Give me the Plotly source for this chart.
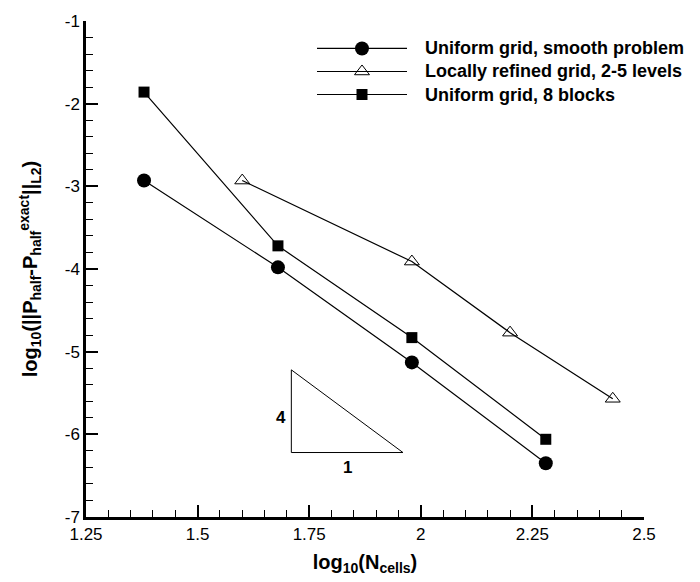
import plotly.graph_objects as go

# Convergence data: log10 of L2 error vs log10 of cell count
x_uniform = [1.38, 1.68, 1.98, 2.28]
y_smooth = [-2.93, -3.98, -5.13, -6.35]
y_blocks = [-1.86, -3.72, -4.83, -6.06]

x_refined = [1.60, 1.98, 2.20, 2.43]
y_refined = [-2.93, -3.91, -4.77, -5.57]

# Reference slope triangle (rise 4 over run 1 in log units)
slope_x = [1.71, 1.71, 1.96, 1.71]
slope_y = [-5.22, -6.22, -6.22, -5.22]

x_ticks = [1.25, 1.5, 1.75, 2.0, 2.25, 2.5]
x_tick_labels = ["1.25", "1.5", "1.75", "2", "2.25", "2.5"]
y_ticks = [-7, -6, -5, -4, -3, -2, -1]
y_tick_labels = ["-7", "-6", "-5", "-4", "-3", "-2", "-1"]

FONT = "Liberation Sans, Arial, Helvetica, sans-serif"
W, H = 700, 582
M_L, M_R, M_T, M_B = 86, 56, 12, 64
line_style = dict(color="black", width=1.2)

series = [
    dict(name="Uniform grid, smooth problem", x=x_uniform, y=y_smooth,
         marker=dict(symbol="circle", size=14, color="black")),
    dict(name="Locally refined grid, 2-5 levels", x=x_refined, y=y_refined,
         marker=dict(symbol="triangle-up-open", size=13, color="black",
                     line=dict(color="black", width=1))),
    dict(name="Uniform grid, 8 blocks", x=x_uniform, y=y_blocks,
         marker=dict(symbol="square", size=11, color="black")),
]

fig = go.Figure()

for s in series:
    fig.add_trace(go.Scatter(
        x=s["x"], y=s["y"], mode="lines+markers", name=s["name"],
        line=line_style, marker=s["marker"], showlegend=False,
    ))

fig.add_trace(go.Scatter(
    x=slope_x, y=slope_y, mode="lines",
    line=dict(color="black", width=1), showlegend=False, hoverinfo="skip",
))

fig.add_annotation(
    x=slope_x[0], y=(slope_y[0] + slope_y[1]) / 2 - 0.08, text="<b>4</b>",
    showarrow=False, xanchor="right", xshift=-3,
    font=dict(size=17, family=FONT, color="black"),
)
fig.add_annotation(
    x=(slope_x[1] + slope_x[2]) / 2, y=slope_y[1], text="<b>1</b>",
    showarrow=False, yanchor="top", yshift=-3,
    font=dict(size=17, family=FONT, color="black"),
)

# Legend key drawn on a hidden overlay axis measured in pixels
key_x0, key_x1, key_text_x = 317, 407, 423
key_row0, key_row_step = 40, 23.5
for i, s in enumerate(series):
    ky = key_row0 + i * key_row_step
    kmid = (key_x0 + key_x1) / 2
    fig.add_trace(go.Scatter(
        x=[key_x0, key_x1], y=[ky, ky], mode="lines", line=line_style,
        xaxis="x2", yaxis="y2", showlegend=False, hoverinfo="skip",
    ))
    fig.add_trace(go.Scatter(
        x=[kmid], y=[ky], mode="markers", marker=s["marker"],
        xaxis="x2", yaxis="y2", showlegend=False, hoverinfo="skip",
    ))
    fig.add_annotation(
        x=key_text_x, y=ky, xref="x2", yref="y2", text="<b>%s</b>" % s["name"],
        showarrow=False, xanchor="left", yanchor="middle",
        font=dict(size=18, family=FONT, color="black"),
    )

axis_common = dict(
    showgrid=False, zeroline=False, showline=True, mirror=False,
    linecolor="black", linewidth=2.5,
    ticks="inside", ticklen=12, tickwidth=2, tickcolor="black",
    tickfont=dict(size=17, family=FONT, color="black"),
)

fig.update_layout(
    width=W, height=H,
    margin=dict(l=M_L, r=M_R, t=M_T, b=M_B),
    plot_bgcolor="white", paper_bgcolor="white",
    font=dict(family=FONT, color="black"),
    showlegend=False,
    xaxis=dict(
        range=[1.25, 2.5], tickmode="array", tickvals=x_ticks,
        ticktext=x_tick_labels,
        minor=dict(ticks="inside", ticklen=7, tickwidth=1, tickcolor="black",
                   dtick=0.05),
        title=dict(text="<b>log<sub>10</sub>(N<sub>cells</sub>)</b>",
                   font=dict(size=20, family=FONT, color="black"), standoff=12),
        **axis_common,
    ),
    yaxis=dict(
        range=[-7, -1], tickmode="array", tickvals=y_ticks,
        ticktext=y_tick_labels,
        minor=dict(ticks="inside", ticklen=7, tickwidth=1, tickcolor="black",
                   dtick=0.2),
        title=dict(text="<b>log<sub>10</sub>(||P<sub>half</sub>-P<sub>half</sub>"
                        "<sup>exact</sup>||<sub>L2</sub>)</b>",
                   font=dict(size=20, family=FONT, color="black"), standoff=22),
        **axis_common,
    ),
    xaxis2=dict(overlaying="x", anchor="y2", range=[M_L, W - M_R],
                visible=False, fixedrange=True),
    yaxis2=dict(overlaying="y", anchor="x2", range=[H - M_B, M_T],
                visible=False, fixedrange=True),
)

fig.write_html("out.html")
